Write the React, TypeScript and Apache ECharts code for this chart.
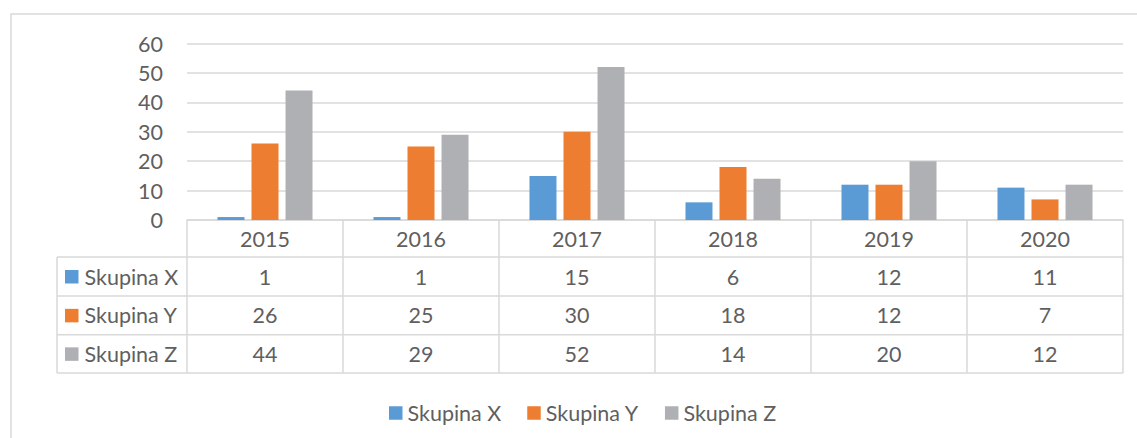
import React, { useEffect, useRef } from "react";
import * as echarts from "echarts";

const years = ["2015", "2016", "2017", "2018", "2019", "2020"];
const seriesNames = ["Skupina X", "Skupina Y", "Skupina Z"];
const skupinaX = [1, 1, 15, 6, 12, 11];
const skupinaY = [26, 25, 30, 18, 12, 7];
const skupinaZ = [44, 29, 52, 14, 20, 12];
const colors = ["#5B9BD5", "#ED7D31", "#AFB0B3"];
const yTicks = { min: 0, max: 60, interval: 10 };

const W = 1137;
const H = 438;
const FONT = "Lato, 'Liberation Sans', sans-serif";
const FS = 21.5;
const TEXT = "#5f5f5f";
const LINE = "#d9d9d9";

export default function App() {
  const ref = useRef<HTMLDivElement>(null);
  useEffect(() => {
    if (!ref.current) return;
    const chart = echarts.init(ref.current, null, { renderer: "svg" });
    const gridLeft = 187;
    const gridRight = 1123;
    const gridTop = 43.5;
    const gridBottom = 220;
    const catW = (gridRight - gridLeft) / years.length;
    const rowY = [220, 257, 296, 334.7, 373];
    const tableLeft = 57;
    const values = [skupinaX, skupinaY, skupinaZ];

    const graphic: any[] = [];
    graphic.push({
      type: "rect",
      shape: { x: 11, y: 14, width: 1300, height: 600 },
      style: { fill: "none", stroke: LINE, lineWidth: 1.5 },
      silent: true,
    });
    for (let i = 1; i < rowY.length; i++) {
      graphic.push({
        type: "line",
        shape: { x1: tableLeft, y1: rowY[i], x2: gridRight, y2: rowY[i] },
        style: { stroke: LINE, lineWidth: 1.5 },
      });
    }
    for (let c = 0; c <= years.length; c++) {
      const x = gridLeft + c * catW;
      graphic.push({
        type: "line",
        shape: { x1: x, y1: rowY[0], x2: x, y2: rowY[4] },
        style: { stroke: LINE, lineWidth: 1.5 },
      });
    }
    graphic.push({
      type: "line",
      shape: { x1: tableLeft, y1: rowY[1], x2: tableLeft, y2: rowY[4] },
      style: { stroke: LINE, lineWidth: 1.5 },
    });
    seriesNames.forEach((name, i) => {
      const cy = (rowY[i + 1] + rowY[i + 2]) / 2;
      graphic.push({
        type: "rect",
        shape: { x: 65, y: cy - 6.5, width: 13.5, height: 13.5 },
        style: { fill: colors[i] },
      });
      graphic.push({
        type: "text",
        style: {
          text: name,
          x: 84.5,
          y: cy,
          fill: TEXT,
          fontFamily: FONT,
          fontSize: FS,
          textAlign: "left",
          textVerticalAlign: "middle",
        },
      });
      values[i].forEach((v, c) => {
        graphic.push({
          type: "text",
          style: {
            text: String(v),
            x: gridLeft + (c + 0.5) * catW,
            y: cy,
            fill: TEXT,
            fontFamily: FONT,
            fontSize: FS,
            textAlign: "center",
            textVerticalAlign: "middle",
          },
        });
      });
    });

    chart.setOption({
      animation: false,
      color: colors,
      textStyle: { fontFamily: FONT },
      grid: {
        left: gridLeft,
        right: W - gridRight,
        top: gridTop,
        bottom: H - gridBottom,
        containLabel: false,
      },
      legend: {
        left: 384,
        top: 397,
        icon: "rect",
        itemWidth: 13.5,
        itemHeight: 13.5,
        itemGap: 26,
        textStyle: { color: TEXT, fontSize: FS, fontFamily: FONT },
        data: seriesNames,
      },
      xAxis: {
        type: "category",
        data: years,
        axisLine: { show: true, lineStyle: { color: LINE, width: 1.5 } },
        axisTick: { show: false },
        axisLabel: {
          color: TEXT,
          fontSize: FS,
          fontFamily: FONT,
          margin: 8,
        },
      },
      yAxis: {
        type: "value",
        min: yTicks.min,
        max: yTicks.max,
        interval: yTicks.interval,
        axisLine: { show: false },
        axisTick: { show: false },
        splitLine: { lineStyle: { color: LINE, width: 1.5 } },
        axisLabel: { color: TEXT, fontSize: FS, fontFamily: FONT, margin: 24 },
      },
      series: seriesNames.map((name, i) => ({
        name,
        type: "bar",
        data: values[i],
        barWidth: 27,
        barGap: "26%",
      })),
      graphic,
    });
    return () => chart.dispose();
  }, []);
  return (
    <div
      ref={ref}
      style={{ position: "absolute", left: 0, top: 0, width: W, height: H, background: "#fff" }}
    />
  );
}
